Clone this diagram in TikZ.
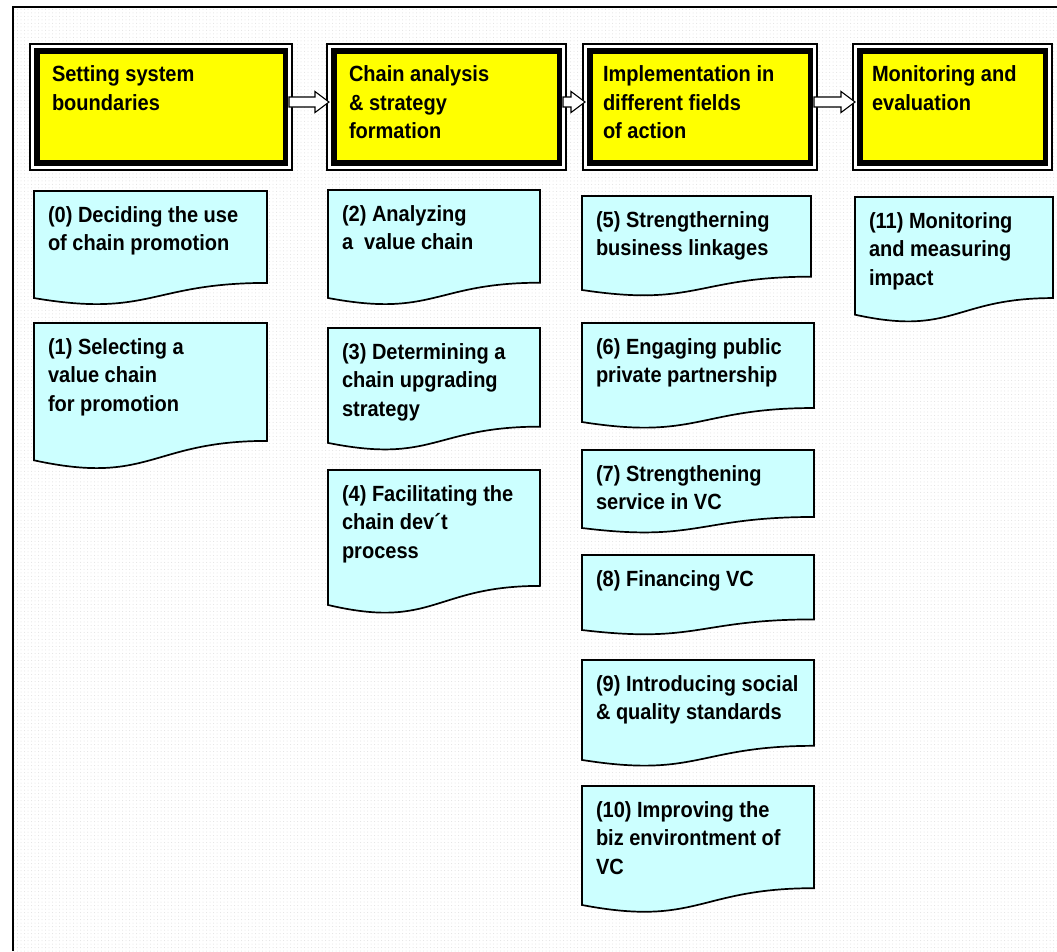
\documentclass[tikz,border=0pt]{standalone}
\usepackage{fontspec}
\setmainfont[FakeStretch=0.91]{Liberation Sans}
\usetikzlibrary{calc,patterns.meta}
\definecolor{docfill}{RGB}{204,255,255}
\definecolor{hdrfill}{RGB}{255,255,0}
\tikzset{
  hdr/.style={draw=black, line width=1.2pt, fill=white, rectangle, inner sep=0pt, outer sep=0pt},
  hdrin/.style={draw=black, line width=5.5pt, fill=hdrfill, line join=miter},
  lbl/.style={anchor=north west, inner sep=0pt, outer sep=0pt, align=left,
    font=\fontsize{22}{28.3}\selectfont\bfseries},
  docshape/.style={draw=black, line width=1.7pt, fill=docfill, line join=miter},
  blockarrow/.style={draw=black, line width=1.1pt, fill=white, line join=miter},
  frameline/.style={draw=black, line width=1.4pt}
}
\newcommand\docbox[6]{%
  \pgfmathsetmacro\dbRb{#4+0.802*#5}%
  \pgfmathsetmacro\dbLb{#4+0.934*#5}%
  \pgfmathsetmacro\dbCb{#4+1.107*#5}%
  \pgfmathsetmacro\dbXm{(#2+#3)/2}%
  \draw[docshape] (#2,#4) -- (#3,#4) -- (#3,\dbRb) .. controls (\dbXm,\dbRb) and (\dbXm,\dbCb) .. (#2,\dbLb) -- cycle;
  \node[lbl] (#1) at (#2+14,#4+15.5) {#6};
}
\begin{document}
\begin{tikzpicture}[x=1pt,y=-1pt]
\useasboundingbox (0,0) rectangle (1057,951);
\fill[white] (0,0) rectangle (1057,951);
\fill[pattern={Dots[radius=0.5pt,distance=3.5pt]}, pattern color=black!12] (13,7) rectangle (1057,951);
\draw[frameline] (13,951) -- (13,7) -- (1057,7);

% header boxes
\node[hdr, minimum width=262pt, minimum height=126pt] (h1) at (161,107) {};
\node[hdr, minimum width=239pt, minimum height=126pt] (h2) at (446.5,107) {};
\node[hdr, minimum width=234pt, minimum height=126pt] (h3) at (700,107) {};
\node[hdr, minimum width=199pt, minimum height=126pt] (h4) at (952.5,107) {};
\foreach \h in {h1,h2,h3,h4}{
  \draw[hdrin] ($(\h.north west)+(6.75,7)$) rectangle ($(\h.south east)+(-6.75,-7)$);
}
\node[lbl] (h1t) at (52,66) {Setting system\\boundaries};
\node[lbl] (h2t) at (349,66) {Chain analysis\\\& strategy\\formation};
\node[lbl] (h3t) at (603,66) {Implementation in\\different fields\\of action};
\node[lbl] (h4t) at (872,66) {Monitoring and\\evaluation};

% block arrows
\coordinate (ay) at (0,102);
\foreach \a/\b in {h1/h2,h2/h3,h3/h4}{
  \draw[blockarrow] ($(\a.east|-ay)+(-3,-5)$) -- ($(\b.west|-ay)+(-12,-5)$) -- ($(\b.west|-ay)+(-12,-10.5)$)
    -- ($(\b.west|-ay)+(2,0)$) -- ($(\b.west|-ay)+(-12,10.5)$) -- ($(\b.west|-ay)+(-12,5)$)
    -- ($(\a.east|-ay)+(-3,5)$) -- cycle;
}

% document boxes
\docbox{d0}{34}{267}{191}{114.6}{(0) Deciding the use\\of chain promotion}
\docbox{d1}{34}{267}{323}{147}{(1) Selecting a\\value chain\\for promotion}
\docbox{d2}{328}{540}{190}{115.6}{(2) Analyzing\\a\ \ value chain}
\docbox{d3}{328}{540}{328}{123}{(3) Determining a\\chain upgrading\\strategy}
\docbox{d4}{328}{540}{470}{144.5}{(4) Facilitating the\\chain dev´t\\process}
\docbox{d5}{582}{811}{196}{100.6}{(5) Strengtherning\\business linkages}
\docbox{d6}{582}{814}{323}{106}{(6) Engaging public\\private partnership}
\docbox{d7}{582}{814}{450}{83.5}{(7) Strengthening\\service in VC}
\docbox{d8}{582}{814}{555}{80.3}{(8) Financing VC}
\docbox{d9}{582}{814}{660}{107}{(9) Introducing social\\\& quality standards}
\docbox{d10}{582}{814}{786}{127.4}{(10) Improving the\\biz environtment of\\VC}
\docbox{d11}{855}{1053}{197}{126}{(11) Monitoring\\and measuring\\impact}
\end{tikzpicture}
\end{document}
